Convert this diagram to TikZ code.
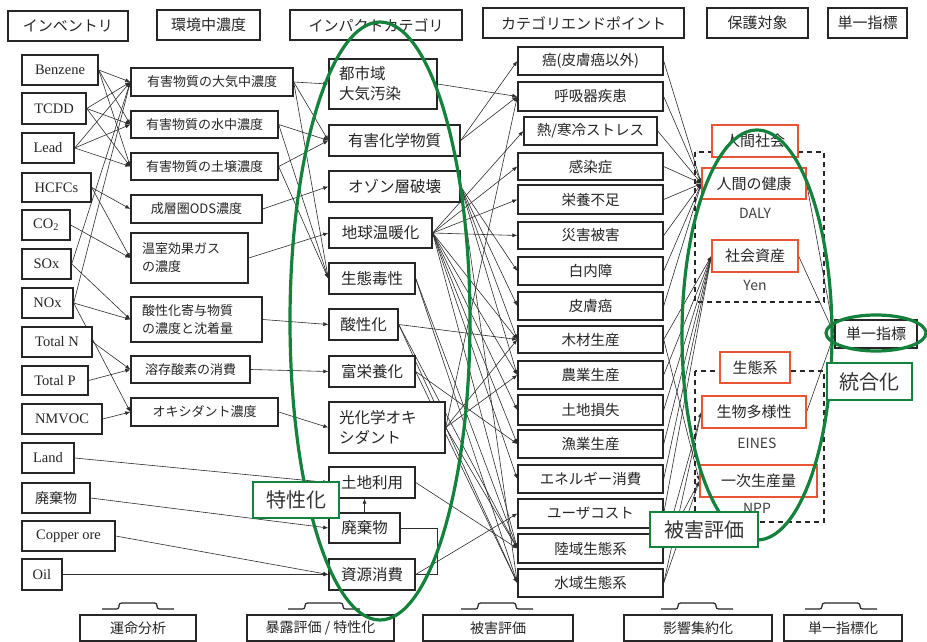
\documentclass[tikz,border=0pt]{standalone}
\usepackage{fontspec}
\setmainfont{Noto Sans CJK JP}
\newfontfamily\lat{Liberation Serif}
\usetikzlibrary{arrows.meta,backgrounds}
\definecolor{grn}{RGB}{20,130,60}
\definecolor{redb}{RGB}{232,84,52}
\definecolor{ln}{RGB}{45,45,45}
\tikzset{
 bx/.style={draw=black!85,line width=1.4pt,fill=white,inner sep=0pt,text=black!85},
 pr/.style={draw=redb,line width=1.2pt,font=\fontsize{15}{16}\selectfont},
 gbx/.style={draw=grn,line width=2.2pt,fill=white,inner sep=0pt,text=black!80,font=\fontsize{20}{22}\selectfont},
 c1/.style={font=\lat\fontsize{14.5}{16}\selectfont},
 c1j/.style={font=\fontsize{14}{16}\selectfont},
 c2/.style={font=\fontsize{13}{18}\selectfont},
 c3/.style={font=\fontsize{15.5}{20}\selectfont},
 c4/.style={font=\fontsize{14.5}{16}\selectfont},
 hd/.style={font=\fontsize{15}{16}\selectfont},
 bt/.style={font=\fontsize{14}{16}\selectfont},
 lbl/.style={inner sep=0pt,text=black!75,font=\fontsize{14}{16}\selectfont},
 cn/.style={draw=ln,line width=0.6pt,-{Latex[length=5pt,width=4pt]}},
 cnn/.style={draw=ln,line width=0.6pt},
 gell/.style={draw=grn,line width=3.2pt},
 dsh/.style={draw=black!85,line width=1.3pt,dash pattern=on 5pt off 4pt},
 bump/.style={draw=black!85,line width=1.2pt,rounded corners=2.5pt},
}
\newcommand\bx[7][]{\node[bx,#1,minimum width={(#5-#3)*1pt},minimum height={(#6-#4)*1pt}] (#2) at ({(#3+#5)/2},{(#4+#6)/2}) {#7};}
\newcommand\gb[6]{\node[gbx,minimum width={(#4-#2)*1pt},minimum height={(#5-#3)*1pt}] (#1) at ({(#2+#4)/2},{(#3+#5)/2}) {#6};}
\newcommand\bumpat[1]{\draw[bump] (#1-36,609) -- (#1-19,609) -- (#1-19,603) -- (#1+19,603) -- (#1+19,609) -- (#1+36,609);}
\begin{document}
\begin{tikzpicture}[x=1pt,y=-1pt]
\useasboundingbox (0,0) rectangle (927,642);
% headers
\bx[hd]{h1}{8}{11}{128}{41}{インベントリ}
\bx[hd]{h2}{157}{10}{260}{40}{環境中濃度}
\bx[hd]{h3}{290}{10}{462}{40}{インパクトカテゴリ}
\bx[hd]{h4}{483}{8}{684}{38}{カテゴリエンドポイント}
\bx[hd]{h5}{707}{8}{808}{38}{保護対象}
\bx[hd]{h6}{828}{8}{907}{38}{単一指標}
% inventory
\bx[c1]{benz}{22}{55}{98}{85}{Benzene}
\bx[c1]{tcdd}{22}{93}{86}{124}{TCDD}
\bx[c1]{lead}{22}{133}{74}{163}{Lead}
\bx[c1]{hcfc}{22}{173}{91}{202}{HCFCs}
\bx[c1]{co2}{22}{210}{70}{240}{CO\textsubscript{2}}
\bx[c1]{sox}{22}{249}{71}{279}{SOx}
\bx[c1]{nox}{22}{288}{73}{318}{NOx}
\bx[c1]{totn}{22}{327}{92}{357}{Total N}
\bx[c1]{totp}{22}{366}{88}{395}{Total P}
\bx[c1]{nmvoc}{22}{404}{102}{434}{NMVOC}
\bx[c1]{land}{22}{443}{74}{473}{Land}
\bx[c1j]{waste}{22}{483}{90}{513}{廃棄物}
\bx[c1]{cu}{22}{521}{115}{551}{Copper ore}
\bx[c1]{oil}{22}{559}{62}{590}{Oil}
% environmental concentration
\bx[c2]{air}{131}{68}{293}{96}{有害物質の大気中濃度}
\bx[c2]{water}{131}{111}{278}{138}{有害物質の水中濃度}
\bx[c2]{soil}{131}{153}{278}{180}{有害物質の土壌濃度}
\bx[c2]{ods}{131}{195}{262}{223}{成層圏ODS濃度}
\bx[c2,text width=95pt,align=left]{ghg}{131}{233}{248}{283}{温室効果ガス\\の濃度}
\bx[c2,text width=109pt,align=left]{acid}{131}{297}{262}{342}{酸性化寄与物質\\の濃度と沈着量}
\bx[c2]{dox}{131}{356}{250}{383}{溶存酸素の消費}
\bx[c2]{oxc}{131}{398}{278}{426}{オキシダント濃度}
% impact categories
\bx[c3,text width=88pt,align=left]{urban}{329}{59}{437}{109}{都市域\\大気汚染}
\bx[c3]{toxic}{329}{125}{460}{156}{有害化学物質}
\bx[c3]{ozone}{329}{171}{460}{202}{オゾン層破壊}
\bx[c3]{gw}{329}{218}{432}{248}{地球温暖化}
\bx[c3]{ecotox}{329}{263}{415}{294}{生態毒性}
\bx[c3]{acidi}{329}{309}{398}{340}{酸性化}
\bx[c3]{eutro}{329}{356}{415}{387}{富栄養化}
\bx[c3,text width=96pt,align=left]{photo}{329}{402}{445}{453}{光化学オキ\\シダント}
\bx[c3]{landuse}{329}{467}{415}{498}{土地利用}
\bx[c3]{wastec}{329}{513}{400}{543}{廃棄物}
\bx[c3]{resource}{329}{559}{415}{590}{資源消費}
% category endpoints
\bx[c4]{cancer}{518}{47}{663}{75}{癌(皮膚癌以外)}
\bx[c4]{resp}{518}{82}{663}{111}{呼吸器疾患}
\bx[c4]{heat}{524}{117}{657}{145}{熱/寒冷ストレス}
\bx[c4]{infect}{518}{153}{663}{180}{感染症}
\bx[c4]{nutr}{518}{185}{663}{214}{栄養不足}
\bx[c4]{disaster}{518}{222}{663}{249}{災害被害}
\bx[c4]{cataract}{518}{257}{663}{285}{白内障}
\bx[c4]{skin}{518}{292}{663}{320}{皮膚癌}
\bx[c4]{wood}{518}{326}{663}{353}{木材生産}
\bx[c4]{agri}{518}{361}{663}{389}{農業生産}
\bx[c4]{landloss}{518}{395}{663}{425}{土地損失}
\bx[c4]{fish}{518}{430}{663}{458}{漁業生産}
\bx[c4]{energy}{518}{465}{663}{493}{エネルギー消費}
\bx[c4]{usercost}{518}{499}{663}{528}{ユーザコスト}
\bx[c4]{terr}{518}{534}{663}{563}{陸域生態系}
\bx[c4]{aqua}{518}{569}{663}{597}{水域生態系}
% protection targets
\begin{pgfonlayer}{background}
\fill[white] (0,0) rectangle (927,642);
\draw[dsh] (695,152) rectangle (824,302);
\draw[dsh] (695,371) rectangle (824,522);
\end{pgfonlayer}
\bx[pr]{society}{712}{125}{798}{157}{人間社会}
\bx[pr]{health}{702}{168}{806}{199}{人間の健康}
\node[lbl] (daly) at (755,213) {DALY};
\bx[pr]{assets}{712}{240}{798}{272}{社会資産}
\node[lbl] (yen) at (755,285) {Yen};
\bx[pr]{eco}{720}{352}{790}{383}{生態系}
\bx[pr]{biodiv}{702}{396}{806}{428}{生物多様性}
\node[lbl] (eines) at (757,443) {EINES};
\bx[pr]{npp}{700}{465}{817}{497}{一次生産量}
\node[lbl] (nppl) at (757,508) {NPP};
\bx[hd]{single}{835}{320}{917}{348}{単一指標}
% bottom stage boxes
\bx[bt]{b1}{80}{615}{196}{641}{運命分析}
\bx[bt]{b2}{247}{615}{394}{641}{暴露評価 / 特性化}
\bx[bt]{b3}{423}{615}{573}{641}{被害評価}
\bx[bt]{b4}{624}{615}{772}{641}{影響集約化}
\bx[bt]{b5}{784}{615}{902}{641}{単一指標化}
\bumpat{138}\bumpat{324}\bumpat{497}\bumpat{697}\bumpat{841}
% connectors
\begin{pgfonlayer}{background}
\foreach \s/\t in {benz/air,benz/water,benz/soil,tcdd/air,tcdd/water,tcdd/soil,lead/air,lead/water,lead/soil,hcfc/ods,hcfc/ghg,co2/ghg,sox/air,sox/acid,nox/air,nox/acid,nox/oxc,totn/dox,totp/dox,nmvoc/oxc,
 air/urban,air/toxic,air/ecotox,water/toxic,water/ecotox,soil/toxic,soil/ecotox,ods/ozone,ghg/gw,acid/acidi,dox/eutro,oxc/photo,
 land/landuse,waste/wastec,cu/resource,oil/resource,
 urban/resp,toxic/cancer,toxic/resp,ozone/cataract,ozone/skin,ozone/agri,ozone/wood,ozone/aqua,
 gw/heat,gw/infect,gw/nutr,gw/disaster,gw/agri,gw/landloss,gw/energy,gw/terr,gw/fish,gw/wood,
 ecotox/terr,ecotox/aqua,acidi/wood,acidi/terr,acidi/aqua,eutro/fish,eutro/aqua,
 photo/resp,photo/wood,photo/agri,photo/terr,landuse/terr,resource/usercost,
 cancer/health,resp/health,heat/health,infect/health,nutr/health,disaster/health,cataract/health,skin/health,
 wood/assets,agri/assets,landloss/assets,fish/assets,energy/assets,usercost/assets,
 terr/biodiv,aqua/biodiv,terr/npp,aqua/npp,wood/npp,
 health/single,assets/single,biodiv/single}
 \draw[cn] (\s.east) -- (\t.west);
\draw[cn] (wastec.north) -- (wastec.north |- landuse.south);
\draw[cnn] (wastec.east) -- ++(37,0) |- (resource.east);
\end{pgfonlayer}
% green outlines
\draw[gell] (380,321) ellipse [x radius=90, y radius=299];
\draw[gell] (757,335) ellipse [x radius=75, y radius=205];
\draw[gell] (876,333) ellipse [x radius=50, y radius=18];
\gb{tok}{253}{482}{339}{518}{特性化}
\gb{hig}{650}{512}{758}{547}{被害評価}
\gb{tog}{827}{363}{912}{400}{統合化}
\end{tikzpicture}
\end{document}
